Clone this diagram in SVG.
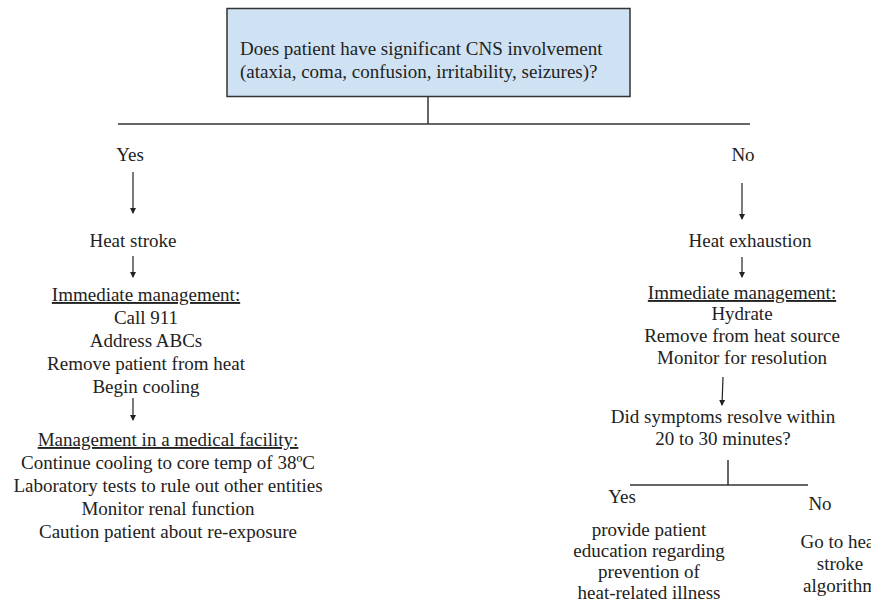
<svg xmlns="http://www.w3.org/2000/svg" width="871" height="606" viewBox="0 0 871 606">
<defs>
<marker id="ah" markerWidth="6" markerHeight="8" refX="5" refY="4" orient="auto" markerUnits="userSpaceOnUse">
<path d="M0,1 L6,4 L0,7 Z" fill="#222"/>
</marker>
</defs>
<style>
text{font-family:'Liberation Serif','Times New Roman',Times,serif;font-size:19px;fill:#222;}
.c{text-anchor:middle;}
.u{text-decoration:underline;}
.ln{stroke:#333;stroke-width:1.5;fill:none;}
.ar{stroke:#222;stroke-width:1.2;fill:none;marker-end:url(#ah);}
</style>
<rect width="871" height="606" fill="#fff"/>
<g id="question">
<rect x="227" y="8.5" width="403" height="88" fill="#cfe2f3" stroke="#333" stroke-width="1.5"/>
<text x="240" y="55">Does patient have significant CNS involvement</text>
<text x="240" y="78">(ataxia, coma, confusion, irritability, seizures)?</text>
</g>
<g id="connectors">
<line class="ln" x1="428" y1="97" x2="428" y2="124"/>
<line class="ln" x1="118" y1="124" x2="750" y2="124"/>
<line class="ar" x1="133" y1="172" x2="133" y2="213"/>
<line class="ar" x1="133" y1="256" x2="133" y2="277"/>
<line class="ar" x1="133" y1="398" x2="133" y2="420"/>
<line class="ar" x1="742" y1="183" x2="742" y2="219"/>
<line class="ar" x1="742" y1="257" x2="742" y2="277"/>
<line class="ar" x1="723" y1="377" x2="722" y2="405"/>
<line class="ln" x1="728" y1="460" x2="728" y2="485"/>
<line class="ln" x1="630" y1="485" x2="808" y2="485"/>
</g>
<g id="yes-label"><text class="c" x="130" y="161">Yes</text></g>
<g id="no-label"><text class="c" x="743" y="161">No</text></g>
<g id="heat-stroke"><text class="c" x="133" y="247">Heat stroke</text></g>
<g id="immediate-left">
<text class="c u" x="146" y="301">Immediate management:</text>
<text class="c" x="146" y="324">Call 911</text>
<text class="c" x="146" y="347">Address ABCs</text>
<text class="c" x="146" y="370">Remove patient from heat</text>
<text class="c" x="146" y="393">Begin cooling</text>
</g>
<g id="facility">
<text class="c u" x="168" y="446">Management in a medical facility:</text>
<text class="c" x="168" y="469">Continue cooling to core temp of 38ºC</text>
<text class="c" x="168" y="492">Laboratory tests to rule out other entities</text>
<text class="c" x="168" y="515">Monitor renal function</text>
<text class="c" x="168" y="538">Caution patient about re-exposure</text>
</g>
<g id="heat-exhaustion"><text class="c" x="750" y="247">Heat exhaustion</text></g>
<g id="immediate-right">
<text class="c u" x="742" y="299">Immediate management:</text>
<text class="c" x="742" y="320">Hydrate</text>
<text class="c" x="742" y="342">Remove from heat source</text>
<text class="c" x="742" y="364">Monitor for resolution</text>
</g>
<g id="resolve-question">
<text class="c" x="723" y="423">Did symptoms resolve within</text>
<text class="c" x="723" y="445">20 to 30 minutes?</text>
</g>
<g id="yes2-label"><text class="c" x="622" y="503">Yes</text></g>
<g id="no2-label"><text class="c" x="820" y="510">No</text></g>
<g id="education">
<text class="c" x="649" y="536">provide patient</text>
<text class="c" x="649" y="557">education regarding</text>
<text class="c" x="649" y="578">prevention of</text>
<text class="c" x="649" y="599">heat-related illness</text>
</g>
<g id="go-heat-stroke">
<text class="c" x="840" y="548">Go to heat</text>
<text class="c" x="840" y="570">stroke</text>
<text class="c" x="840" y="592">algorithm</text>
</g>
</svg>
